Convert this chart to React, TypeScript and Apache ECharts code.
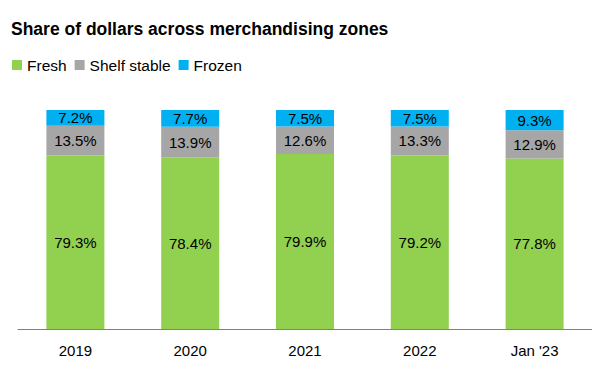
import React, { useEffect, useRef } from "react";
import * as echarts from "echarts";

const categories = ["2019", "2020", "2021", "2022", "Jan '23"];
const fresh = [79.3, 78.4, 79.9, 79.2, 77.8];
const shelfStable = [13.5, 13.9, 12.6, 13.3, 12.9];
const frozen = [7.2, 7.7, 7.5, 7.5, 9.3];

const FONT = "Liberation Sans, Arial, sans-serif";

export default function App() {
  const ref = useRef<HTMLDivElement>(null);
  useEffect(() => {
    if (!ref.current) return;
    const chart = echarts.init(ref.current, null, { renderer: "svg" });
    const label = {
      show: true,
      position: "inside",
      color: "#000",
      fontSize: 15,
      fontFamily: FONT,
      formatter: (p: any) => p.value.toFixed(1) + "%",
    };
    const mk = (name: string, data: number[], color: string) => ({
      name,
      type: "bar",
      stack: "total",
      data,
      barWidth: 58,
      itemStyle: { color },
      label,
    });
    chart.setOption({
      animation: false,
      textStyle: { fontFamily: FONT },
      title: {
        text: "Share of dollars across merchandising zones",
        left: 3,
        top: 12,
        padding: 0,
        textStyle: { fontSize: 17.5, fontWeight: "bold", color: "#000", fontFamily: FONT },
      },
      legend: {
        left: 4,
        top: 49,
        padding: 0,
        icon: "rect",
        itemWidth: 10,
        itemHeight: 10,
        itemGap: 8,
        textStyle: { fontSize: 15.5, color: "#000", fontFamily: FONT, padding: [0, 0, 0, 0] },
        data: ["Fresh", "Shelf stable", "Frozen"],
      },
      grid: { left: 10, right: -5, top: 102, bottom: 33 },
      xAxis: {
        type: "category",
        data: categories,
        axisLine: { lineStyle: { color: "#808080", width: 1 } },
        axisTick: { show: false },
        axisLabel: { color: "#000", fontSize: 15, margin: 14, fontFamily: FONT },
      },
      yAxis: { type: "value", min: 0, max: 100, show: false },
      series: [
        mk("Fresh", fresh, "#92D050"),
        mk("Shelf stable", shelfStable, "#A6A6A6"),
        mk("Frozen", frozen, "#00B0F0"),
      ],
    });
    return () => chart.dispose();
  }, []);
  return <div ref={ref} style={{ width: 584, height: 354 }} />;
}
